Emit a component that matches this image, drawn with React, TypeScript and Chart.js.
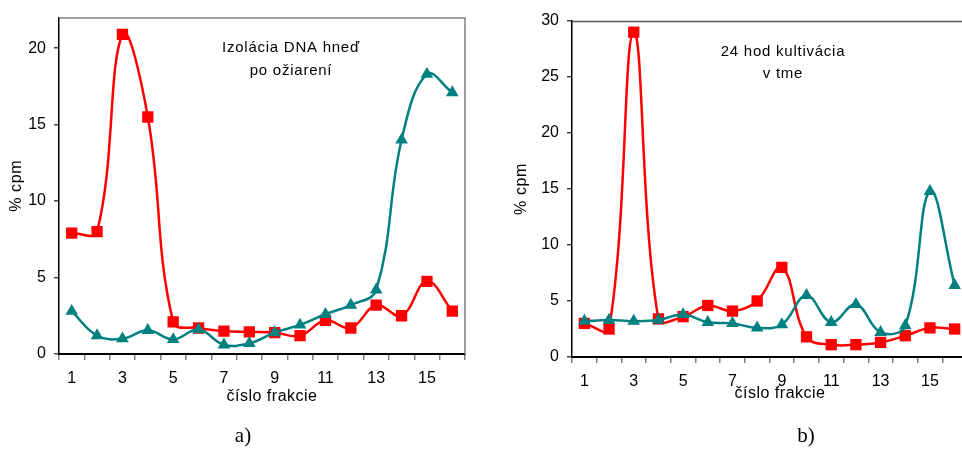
import React, { useEffect, useRef } from 'react';
import { Chart, registerables } from 'chart.js';

Chart.register(...registerables);

// ---- data ----
const fractions = ['1', '2', '3', '4', '5', '6', '7', '8', '9', '10', '11', '12', '13', '14', '15', '16'];
const shownTickLabels = ['1', '3', '5', '7', '9', '11', '13', '15'];

const aRed = [7.9, 8.0, 20.9, 15.5, 2.1, 1.7, 1.5, 1.45, 1.4, 1.2, 2.2, 1.7, 3.2, 2.5, 4.75, 2.8];
const aTeal = [2.8, 1.2, 1.0, 1.55, 0.95, 1.6, 0.6, 0.7, 1.4, 1.9, 2.6, 3.2, 4.2, 14.0, 18.3, 17.1];

const bRed = [3.0, 2.5, 29.0, 3.4, 3.6, 4.6, 4.1, 5.0, 8.0, 1.8, 1.1, 1.1, 1.3, 1.9, 2.6, 2.5];
const bTeal = [3.2, 3.3, 3.2, 3.3, 3.8, 3.1, 3.0, 2.6, 2.9, 5.5, 3.1, 4.7, 2.2, 2.8, 14.8, 6.4];

const aNote = ['Izolácia DNA hneď', 'po ožiarení'];
const bNote = ['24 hod kultivácia', 'v tme'];
const xTitle = 'číslo frakcie';
const yTitle = '% cpm';

const RED = '#FF0000';
const TEAL = '#008080';
const FONT = "'Liberation Sans', Arial, sans-serif";

const decorPlugin = {
  id: 'decor',
  beforeDatasetsDraw(chart: any, _args: any, opts: any) {
    const { ctx, chartArea: a } = chart;
    ctx.save();
    ctx.strokeStyle = opts.frameColor;
    ctx.lineWidth = 1.5;
    ctx.beginPath();
    ctx.moveTo(a.left, a.top + 0.5);
    ctx.lineTo(a.right, a.top + 0.5);
    ctx.lineTo(a.right, a.bottom);
    ctx.stroke();
    ctx.restore();
  },
  afterDraw(chart: any, _args: any, opts: any) {
    const { ctx, chartArea: a } = chart;
    ctx.save();
    ctx.fillStyle = '#000';
    ctx.textAlign = 'center';
    ctx.textBaseline = 'middle';
    // in-plot note
    ctx.font = `15px ${FONT}`;
    (ctx as any).letterSpacing = '0.75px';
    opts.note.forEach((line: string, i: number) => {
      ctx.fillText(line, a.left + opts.noteX, a.top + opts.noteY + i * opts.noteGap);
    });
    // x title
    ctx.font = `16px ${FONT}`;
    (ctx as any).letterSpacing = '0.5px';
    ctx.fillText(xTitle, (a.left + a.right) / 2 + opts.xTitleShift, a.bottom + opts.xTitleY);
    // y title
    ctx.translate(opts.yTitleX, (a.top + a.bottom) / 2);
    ctx.rotate(-Math.PI / 2);
    (ctx as any).letterSpacing = '0.6px';
    ctx.fillText(yTitle, 0, 0);
    ctx.restore();
  },
};

function makeConfig(
  red: number[],
  teal: number[],
  yMax: number,
  padding: any,
  yWidth: number,
  xHeight: number,
  decor: any
): any {
  return {
    type: 'line',
    data: {
      labels: fractions,
      datasets: [
        {
          data: teal,
          borderColor: TEAL,
          backgroundColor: TEAL,
          borderWidth: 2.5,
          pointStyle: 'triangle',
          pointRadius: 7.3,
          pointBorderWidth: 0,
          tension: 0.4,
        },
        {
          data: red,
          borderColor: RED,
          backgroundColor: RED,
          borderWidth: 2.5,
          pointStyle: 'rect',
          pointRadius: 8,
          pointBorderWidth: 0,
          tension: 0.4,
        },
      ],
    },
    options: {
      animation: false,
      responsive: false,
      devicePixelRatio: 1,
      layout: { padding },
      plugins: {
        legend: { display: false },
        tooltip: { enabled: false },
        decor,
      },
      scales: {
        x: {
          type: 'category',
          offset: true,
          afterFit(scale: any) {
            scale.height = xHeight;
          },
          grid: {
            offset: true,
            drawOnChartArea: false,
            drawTicks: true,
            tickLength: 6,
            color: '#808080',
            lineWidth: 1.5,
          },
          border: { display: true, color: '#000', width: 2 },
          ticks: {
            autoSkip: false,
            maxRotation: 0,
            padding: 9,
            color: '#000',
            font: { family: FONT, size: 16 },
            callback(_v: any, i: number) {
              const l = fractions[i];
              return shownTickLabels.includes(l) ? l : '';
            },
          },
        },
        y: {
          min: 0,
          max: yMax,
          afterFit(scale: any) {
            scale.width = yWidth;
          },
          grid: {
            drawOnChartArea: false,
            drawTicks: true,
            tickLength: 5,
            color: '#444',
            lineWidth: 1.5,
          },
          border: { display: true, color: '#000', width: 1.5 },
          ticks: {
            stepSize: 5,
            includeBounds: false,
            padding: 8,
            color: '#000',
            font: { family: FONT, size: 16 },
          },
        },
      },
    },
    plugins: [decorPlugin],
  };
}

export default function App() {
  const refA = useRef<HTMLCanvasElement>(null);
  const refB = useRef<HTMLCanvasElement>(null);

  useEffect(() => {
    const cA = new Chart(
      refA.current as HTMLCanvasElement,
      makeConfig(aRed, aTeal, 22, { left: 8, top: 13, right: 15, bottom: 42 }, 51, 53, {
        frameColor: '#808080',
        note: aNote,
        noteX: 232,
        noteY: 30,
        noteGap: 23,
        xTitleShift: 10,
        xTitleY: 43,
        yTitleX: 17,
      })
    );
    const cB = new Chart(
      refB.current as HTMLCanvasElement,
      makeConfig(bRed, bTeal, 30, { left: 33, top: 21, right: 13, bottom: 46 }, 59, 46, {
        frameColor: '#555',
        note: bNote,
        noteX: 211,
        noteY: 31,
        noteGap: 21.5,
        xTitleShift: 10.5,
        xTitleY: 36.5,
        yTitleX: 41.7,
      })
    );
    return () => {
      cA.destroy();
      cB.destroy();
    };
  }, []);

  const capStyle: React.CSSProperties = {
    position: 'absolute',
    fontFamily: "'Liberation Serif', 'Times New Roman', serif",
    fontSize: 21,
    lineHeight: '24px',
    transform: 'translate(-50%, -50%)',
    color: '#000',
  };

  return (
    <div
      style={{
        position: 'fixed',
        left: 0,
        top: 0,
        width: 962,
        height: 449,
        overflow: 'hidden',
        background: '#fff',
      }}
    >
      <canvas
        ref={refA}
        width={480}
        height={449}
        style={{ position: 'absolute', left: 0, top: 0, width: 480, height: 449 }}
      />
      <canvas
        ref={refB}
        width={500}
        height={449}
        style={{ position: 'absolute', left: 480, top: 0, width: 500, height: 449 }}
      />
      <div style={{ ...capStyle, left: 243, top: 435 }}>a)</div>
      <div style={{ ...capStyle, left: 806, top: 435 }}>b)</div>
    </div>
  );
}
